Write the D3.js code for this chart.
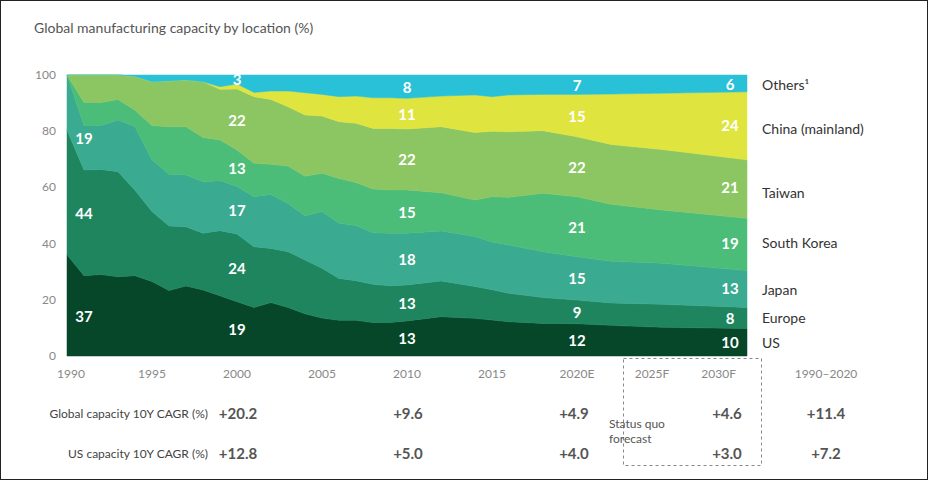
<!DOCTYPE html>
<html><head><meta charset="utf-8">
<script src="https://cdn.jsdelivr.net/npm/d3@7"></script>
<style>body{margin:0;background:#fff}svg{display:block;font-family:Lato,"Open Sans",sans-serif}</style>
</head><body><svg id="c" width="928" height="480"></svg>
<script>
const years = [1990,1991,1992,1993,1994,1995,1996,1997,1998,1999,2000,2001,2002,2003,2004,2005,2006,2007,2008,2009,2010,2012,2014,2015,2016,2018,2020,2022,2025,2030];
const US      = [36,28.6,29,28.2,28.6,26.5,23.3,24.9,23.5,21.4,19.3,17.3,19,17.3,15,13.5,12.7,12.7,11.9,11.9,12.5,14,13.4,12.8,12.2,11.6,11.5,10.9,10.2,9.8];
const Europe  = [44.4,37.6,37.4,37.4,30.4,24.9,23,21.1,20.2,23.2,24.1,21.6,19.3,19.8,19.2,17.7,14.9,14.1,13.6,13.1,12.8,12.7,11.3,10.8,10.1,9.2,8.4,8,8.2,7.5];
const Japan   = [19.6,15.8,15.6,18.4,22.6,18.4,18.4,18.4,18.3,17.8,16.9,17.8,19.2,17.2,15.7,20.2,19.6,19.6,18.4,18.7,18.4,17.8,17.8,17,17.2,16.3,15.4,14.8,14.6,13.1];
const SouthKorea = [0,8.2,8.2,7.3,5.9,12.2,16.9,17.2,15.8,14.5,13,11.9,10.7,13.3,14.1,13.6,16,15.3,15.5,15.4,15.4,13.6,13,16.1,17,20.8,21.4,20.3,19,18.6];
const Taiwan  = [0,9.8,9.8,8.7,12,15.6,16.3,16.6,19.8,18,21.7,23.7,23.1,21.1,21.8,20.4,20.2,21.1,21.6,21.9,21.7,23.5,24,23.3,23.3,22.3,21.3,21.3,21.5,20.8];
const China   = [0,0,0,0,0,0,0,0,0,0.9,1.8,1.5,3,5.6,7.9,7.7,8.9,9.7,10.9,10.9,10.9,10.9,13.4,12.3,13.1,12.9,15.1,17.9,20,24.2];
const Others  = [0,0,0,0,0.5,2.4,2.1,1.8,2.4,4.2,3.2,6.2,5.7,5.7,6.3,6.9,7.7,7.5,8.1,8.1,8.3,7.5,7.1,7.7,7.1,6.9,6.9,6.8,6.5,6];
const seriesNames = ["US","Europe","Japan","South Korea","Taiwan","China (mainland)","Others¹"];
const colors = ["#06472a","#1e855f","#3aaa90","#4bbd78","#8bc662","#e0e43e","#29c1d8"];
const labelYears = [1991,2000,2010,2020,2029];
const labelValues = [
  [37,44,19,null,null,null,null],
  [19,24,17,13,22,null,3],
  [13,13,18,15,22,11,8],
  [12,9,15,21,22,15,7],
  [10,8,13,19,21,24,6]];
const xTickLabels = ["1990","1995","2000","2005","2010","2015","2020E","2025F","2030F"];
const xTickYears = [1990,1995,2000,2005,2010,2015,2020,2025,2030];
const yTicks = [0,20,40,60,80,100];
const globalCAGR = ["+20.2","+9.6","+4.9","+4.6","+11.4"];
const usCAGR = ["+12.8","+5.0","+4.0","+3.0","+7.2"];
const cagrX = [238,408,574,727,826];

const svg = d3.select("#c");
svg.append("rect").attr("x",0.5).attr("y",0.5).attr("width",927).attr("height",479).attr("fill","none").attr("stroke","#222");
const x = d3.scaleLinear().domain([1990,2030]).range([67,747]);
const y = d3.scaleLinear().domain([0,100]).range([356,75]);
const cols=[US,Europe,Japan,SouthKorea,Taiwan,China,Others];
const rows = years.map((yr,i)=>{const o={year:yr};cols.forEach((c,j)=>o[j]=c[i]);return o;});
const stack = d3.stack().keys(d3.range(7))(rows);
const area = d3.area().x(d=>x(d.data.year)).y0(d=>y(d[0])).y1(d=>y(d[1]));
svg.selectAll("path.l").data(stack).join("path").attr("d",area).attr("fill",(d,i)=>colors[i]).attr("stroke",(d,i)=>colors[i]).attr("stroke-width",0.5);

svg.append("text").attr("x",34).attr("y",33).attr("fill","#555").attr("font-size",14).text("Global manufacturing capacity by location (%)");
yTicks.forEach(t=>svg.append("text").attr("x",56).attr("y",y(t)+4).attr("text-anchor","end").attr("fill","#888").attr("font-size",12).text(t));
xTickYears.forEach((t,i)=>svg.append("text").attr("x",i==8?736:(i==7?652:x(t)+(i==0?4:0))).attr("y",378).attr("text-anchor",i==8?"end":"middle").attr("fill","#888").attr("font-size",12).text(xTickLabels[i]));
svg.append("text").attr("x",826).attr("y",378).attr("text-anchor","middle").attr("fill","#888").attr("font-size",12).text("1990–2020");

// layer labels
function stackAt(yr,j){const s=stack[j];let a=s.find(d=>d.data.year>=yr);let k=s.indexOf(a);
  if(a.data.year===yr||k===0) return (a[0]+a[1])/2; const b=s[k-1];const t=(yr-b.data.year)/(a.data.year-b.data.year);
  return ((b[0]+b[1])/2)*(1-t)+((a[0]+a[1])/2)*t;}
labelYears.forEach((yr,i)=>labelValues[i].forEach((v,j)=>{if(v==null)return;
  let cy=y(stackAt(yr,j)); if(i==0&&j>0) cy-=10;
  svg.append("text").attr("x",x(yr)+ (i==0?0:0)).attr("y",cy+6).attr("text-anchor","middle").attr("fill","#fff").attr("font-weight","bold").attr("font-size",15).text(v);}));

const rightY=[343,318,290,243,193,129,85];
seriesNames.forEach((n,i)=>svg.append("text").attr("x",762).attr("y",rightY[i]+5).attr("fill","#333").attr("font-size",14).text(n));

svg.append("text").attr("x",208).attr("y",418).attr("text-anchor","end").attr("fill","#444").attr("font-size",12).text("Global capacity 10Y CAGR (%)");
svg.append("text").attr("x",208).attr("y",458).attr("text-anchor","end").attr("fill","#444").attr("font-size",12).text("US capacity 10Y CAGR (%)");
cagrX.forEach((cx,i)=>{
  svg.append("text").attr("x",cx).attr("y",419).attr("text-anchor","middle").attr("fill","#555").attr("font-weight","bold").attr("font-size",15).text(globalCAGR[i]);
  svg.append("text").attr("x",cx).attr("y",459).attr("text-anchor","middle").attr("fill","#555").attr("font-weight","bold").attr("font-size",15).text(usCAGR[i]);});
svg.append("rect").attr("x",623.5).attr("y",358.5).attr("width",138).attr("height",107).attr("fill","none").attr("stroke","#888").attr("stroke-dasharray","3,3");
svg.append("text").attr("x",609).attr("y",428).attr("fill","#555").attr("font-size",12).text("Status quo");
svg.append("text").attr("x",609).attr("y",443).attr("fill","#555").attr("font-size",12).text("forecast");
</script></body></html>
